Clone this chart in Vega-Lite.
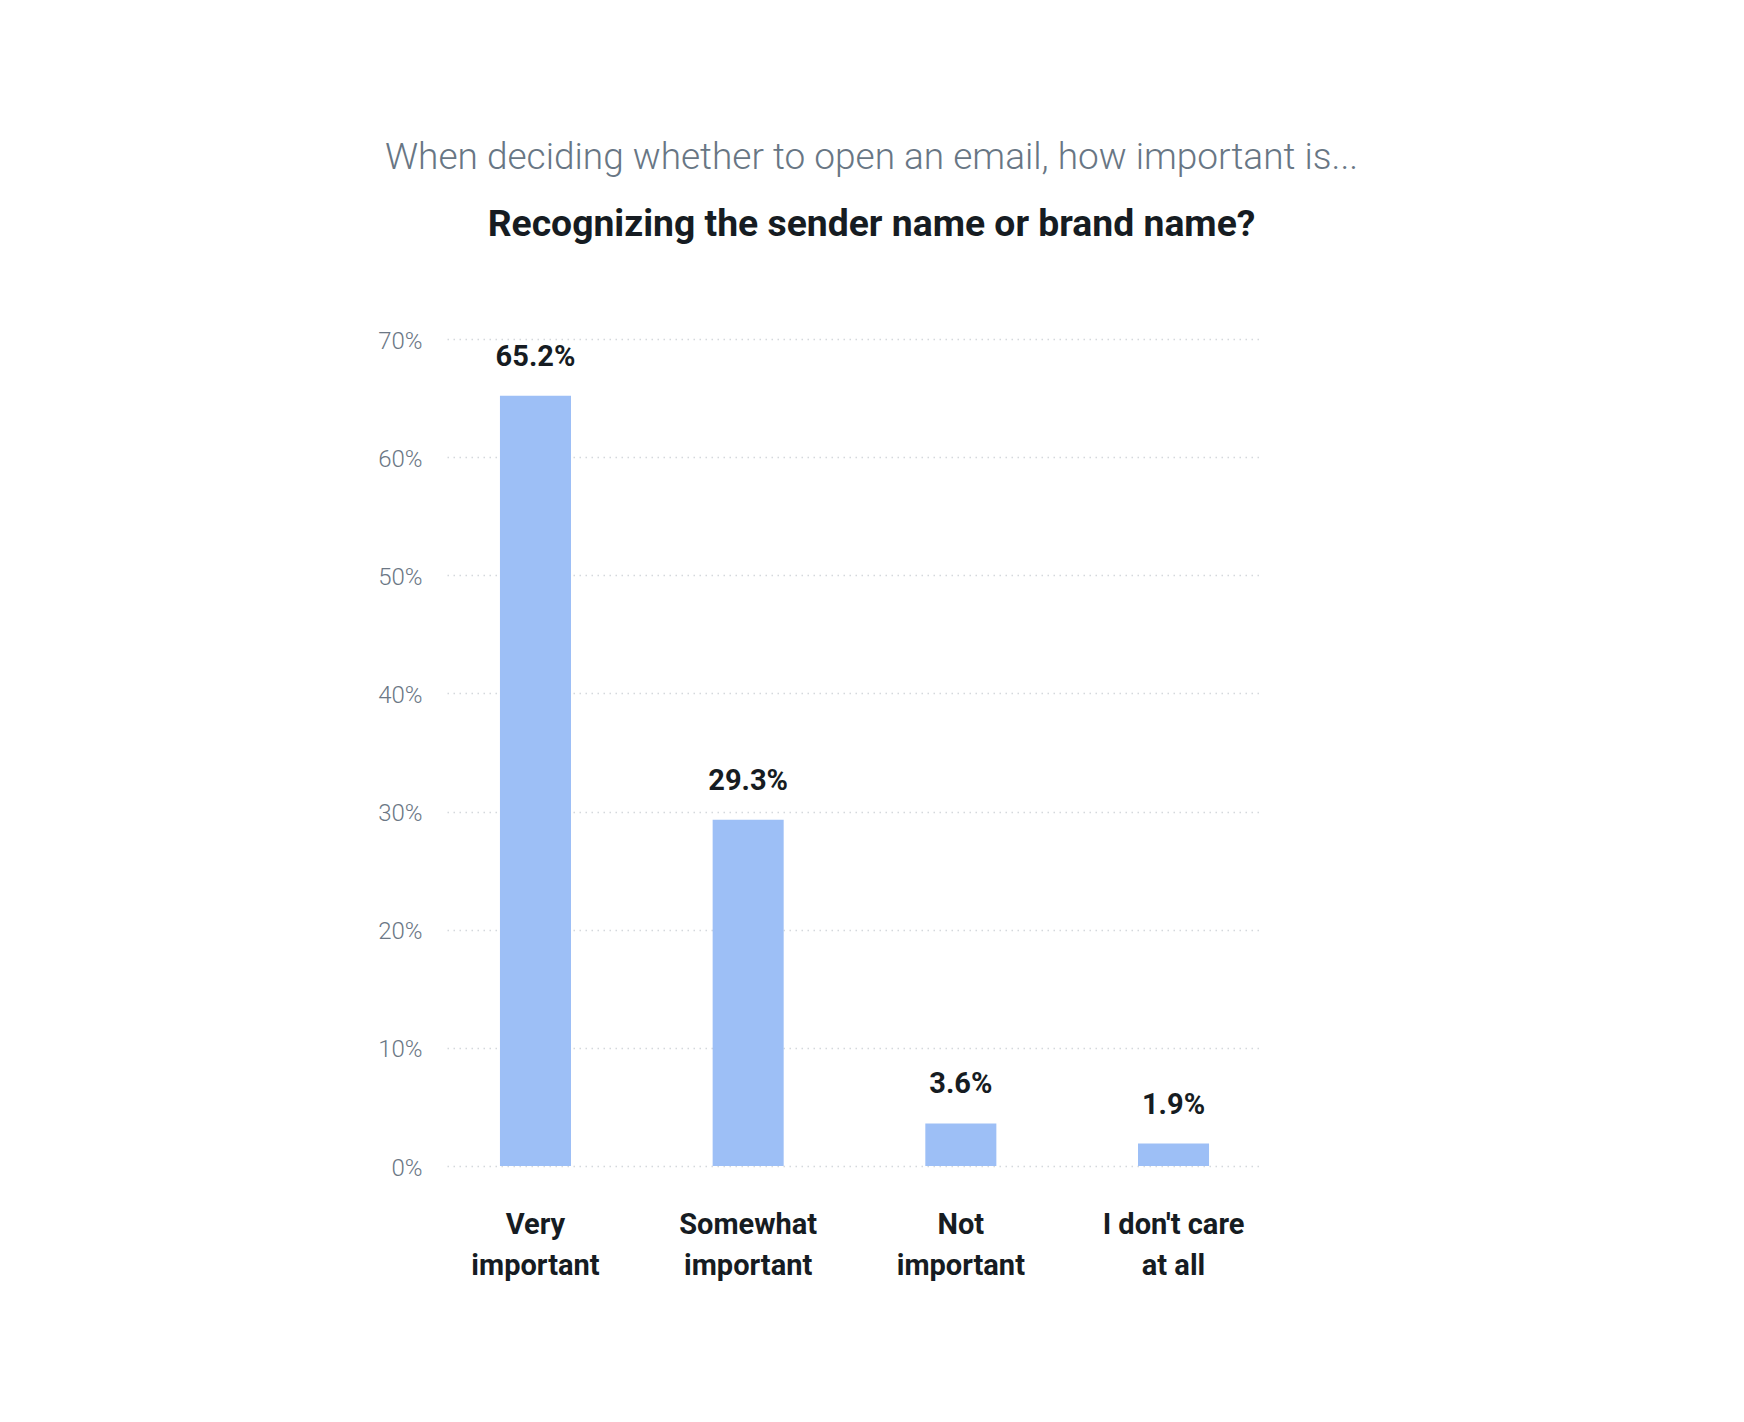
{
  "$schema": "https://vega.github.io/schema/vega-lite/v6.json",
  "width": 815,
  "height": 827,
  "autosize": {"type": "none"},
  "padding": {"left": 447, "top": 339, "right": 482, "bottom": 256},
  "background": "#ffffff",
  "title": {
    "text": "When deciding whether to open an email, how important is...",
    "subtitle": "Recognizing the sender name or brand name?",
    "anchor": "middle",
    "frame": "group",
    "dx": 17,
    "offset": 85,
    "font": "Roboto",
    "fontSize": 37,
    "fontWeight": 300,
    "color": "#687684",
    "subtitleFont": "Roboto",
    "subtitleFontSize": 37.3,
    "subtitleFontWeight": "bold",
    "subtitleColor": "#161c22",
    "subtitlePadding": 30
  },
  "data": {
    "values": [
      {"category": "Very important", "share": 0.652},
      {"category": "Somewhat important", "share": 0.293},
      {"category": "Not important", "share": 0.036},
      {"category": "I don't care at all", "share": 0.019}
    ]
  },
  "config": {
    "view": {"stroke": null},
    "scale": {"bandPaddingInner": 0.666, "bandPaddingOuter": 0.249}
  },
  "encoding": {
    "x": {
      "field": "category",
      "type": "nominal",
      "sort": null,
      "axis": {
        "title": null,
        "labelAngle": 0,
        "ticks": false,
        "domain": false,
        "labelPadding": 44,
        "labelFont": "Roboto",
        "labelFontSize": 29,
        "labelFontWeight": "bold",
        "labelColor": "#161c22",
        "labelLineHeight": 41,
        "labelExpr": "datum.value == 'Very important' ? ['Very', 'important'] : datum.value == 'Somewhat important' ? ['Somewhat', 'important'] : datum.value == 'Not important' ? ['Not', 'important'] : ['I don\\'t care', 'at all']"
      }
    },
    "y": {
      "field": "share",
      "type": "quantitative",
      "scale": {"domain": [0, 0.7], "nice": false},
      "axis": {
        "title": null,
        "values": [0, 0.1, 0.2, 0.3, 0.4, 0.5, 0.6, 0.7],
        "format": ".0%",
        "ticks": false,
        "domain": false,
        "labelPadding": 25,
        "labelOffset": 2,
        "labelFont": "Roboto",
        "labelFontSize": 24,
        "labelFontWeight": 300,
        "labelColor": "#6b7785",
        "grid": true,
        "gridColor": "#d4d8dc",
        "gridDash": [1.5, 4.5],
        "gridWidth": 1.5
      }
    }
  },
  "layer": [
    {"mark": {"type": "bar", "color": "#9dbff6"}},
    {
      "mark": {
        "type": "text",
        "baseline": "alphabetic",
        "dy": -30,
        "font": "Roboto",
        "fontSize": 29,
        "fontWeight": "bold",
        "color": "#161c22"
      },
      "encoding": {
        "text": {"field": "share", "type": "quantitative", "format": ".1%"}
      }
    }
  ]
}
